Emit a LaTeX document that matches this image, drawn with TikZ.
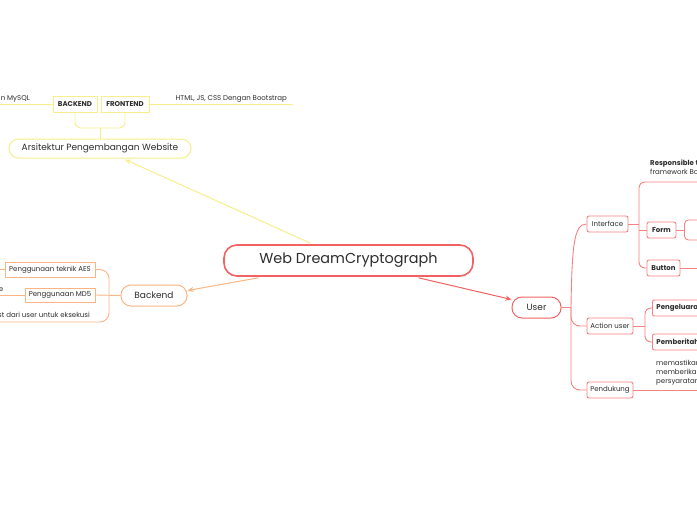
\documentclass[tikz,border=0pt]{standalone}
\usepackage{fontspec}
\setmainfont{Poppins}
\usetikzlibrary{arrows.meta,calc}
\definecolor{cred}{RGB}{242,98,98}
\definecolor{lred}{RGB}{246,130,130}
\definecolor{cor}{RGB}{251,180,132}
\definecolor{cyel}{RGB}{247,238,140}
\definecolor{txt}{RGB}{45,45,45}
\tikzset{
  every node/.style={text=txt, inner sep=0pt},
  small/.style={font=\fontsize{7}{8.5}\selectfont},
  smallb/.style={font=\fontsize{7}{8.5}\selectfont\bfseries},
  ybox/.style={draw=cyel, line width=0.9pt, fill=white, smallb, minimum height=16pt},
  obox/.style={draw=cor, line width=0.9pt, fill=white, small, minimum height=15pt},
  rbox/.style={draw=lred, line width=0.9pt, fill=white, rounded corners=2pt, small, minimum height=16pt},
  rboxb/.style={rbox, font=\fontsize{7}{8.5}\selectfont\bfseries},
  pill/.style={line width=1pt, fill=white, rounded corners=10pt, font=\fontsize{9}{11}\selectfont},
  arr/.style={-{Stealth[length=6pt,width=5pt]}},
}
\begin{document}
\begin{tikzpicture}[x=1pt,y=-1pt]
\useasboundingbox[fill=white] (0,0) rectangle (697,520);

% ---------- yellow branch ----------
\node[pill, draw=cyel, minimum width=182pt, minimum height=19pt, rounded corners=9.5pt] (arsit) at (100,148.5) {Arsitektur Pengembangan Website};
\node[ybox, minimum width=44pt] (be) at (75,104) {BACKEND};
\node[ybox, minimum width=48pt] (fe) at (125,104) {FRONTEND};
\coordinate (beL) at (0,104);
\coordinate (feR) at (293,104);
\coordinate (brk) at (100,128);
\draw[cyel, line width=0.9pt] (be.west) -- (beL);
\draw[cyel, line width=0.9pt] (fe.east) -- (feR);
\draw[cyel, line width=0.9pt, rounded corners=6pt] (be.south) -- (75,128) -- (125,128) -- (fe.south);
\draw[cyel, line width=0.9pt] (arsit.north) -- (brk);
\node[small, anchor=base east] (mysql) at (30,100) {n MySQL};
\node[small, anchor=base east] (html) at (287,100) {HTML, JS, CSS Dengan Bootstrap};

% ---------- orange branch ----------
\node[pill, draw=cor, minimum width=66pt, minimum height=21pt] (backend) at (154,295.5) {Backend};
\node[obox, minimum width=90pt] (aes) at (50,269.5) {Penggunaan teknik AES};
\node[obox, minimum width=70pt, minimum height=14pt] (md5) at (60,295) {Penggunaan MD5};
\coordinate (aesL) at (0,269.5);
\coordinate (md5L) at (0,295);
\coordinate (botL) at (0,322);
\draw[cor, line width=0.9pt] (aes.west) -- (aesL);
\draw[cor, line width=0.9pt] (md5.west) -- (md5L);
\draw[cor, line width=0.9pt] (backend.west) -- (md5.east);
\draw[cor, line width=0.9pt, rounded corners=9pt] (aes.east) -- (109,269.5) -- (109,322) -- (botL);
\node[small, anchor=base east] (e) at (3.5,291) {e};
\node[small, anchor=base east] (eks) at (90,317) {st dari user untuk eksekusi};

% ---------- root ----------
\node[draw=cred, line width=1.6pt, fill=white, rounded corners=13pt, minimum width=249pt, minimum height=31pt, font=\fontsize{14.4}{17}\selectfont] (root) at (348.5,260.5) {Web DreamCryptograph};

% ---------- red branch ----------
\node[pill, draw=cred, minimum width=49pt, minimum height=21pt] (user) at (536.5,307.5) {User};
\draw[cyel, line width=1pt, arr] ($(root.north)+(-38,-1)$) -- ($(arsit.south)+(25,1)$);
\draw[cor, line width=1pt, arr] ($(root.south)+(-90,1)$) -- ($(backend.east)+(0,-5)$);
\draw[cred, line width=1pt, arr] ($(root.south)+(70,1)$) -- ($(user.west)+(0,-8)$);

\node[rbox, minimum width=41pt] (iface) at (607.5,224) {Interface};
\node[rbox, minimum width=46pt] (action) at (610,326) {Action user};
\node[rbox, minimum width=46pt] (pend) at (610,390) {Pendukung};
\coordinate (ut) at (571,307.5);
\draw[lred, line width=0.9pt] (user.east) -- (ut);
\draw[lred, line width=0.9pt] (ut) .. controls (572,245) and (574,224) .. (iface.west);
\draw[lred, line width=0.9pt, rounded corners=9pt] (ut) -- (571,326) -- (action.west);
\draw[lred, line width=0.9pt, rounded corners=9pt] (ut) -- (571,390) -- (pend.west);

% interface subtree
\node[rboxb, minimum width=29pt] (form) at (661.5,230) {Form};
\node[rboxb, minimum width=33pt] (button) at (663.5,268) {Button};
\node[rbox, anchor=west, minimum width=46pt, minimum height=20pt, rounded corners=4pt] (formsub) at (684,230) {};
\coordinate (topR) at (700,182);
\coordinate (btnR) at (700,268);
\draw[lred, line width=0.9pt] (iface.east) -- (639,224);
\draw[lred, line width=0.9pt, rounded corners=6pt] (topR) -- (639,182) -- (639,268) -- (button.west);
\draw[lred, line width=0.9pt] (639,230) -- (form.west);
\draw[lred, line width=0.9pt] (form.east) -- (formsub.west);
\draw[lred, line width=0.9pt] (button.east) -- (btnR);
\node[anchor=north west, align=left, font=\fontsize{7}{9}\selectfont] (resp) at (650,159.5) {\textbf{Responsible t}\\framework Bo};

% action subtree
\node[rboxb, anchor=west, minimum width=70pt, text width=62pt, align=left, inner xsep=4pt] (peng) at (652,308) {Pengeluaran};
\node[rboxb, anchor=west, minimum width=70pt, text width=62pt, align=left, inner xsep=4pt] (pemb) at (652,342) {Pemberitahuan};
\draw[lred, line width=0.9pt] (action.east) -- (645,326);
\draw[lred, line width=0.9pt, rounded corners=6pt] (peng.west) -- (645,308) -- (645,342) -- (pemb.west);

% pendukung
\coordinate (pendR) at (700,390);
\draw[lred, line width=0.9pt] (pend.east) -- (pendR);
\node[anchor=north west, align=left, font=\fontsize{7}{9}\selectfont] (mem) at (656,359.5) {memastikan\\memberikan\\persyaratan};
\end{tikzpicture}
\end{document}
